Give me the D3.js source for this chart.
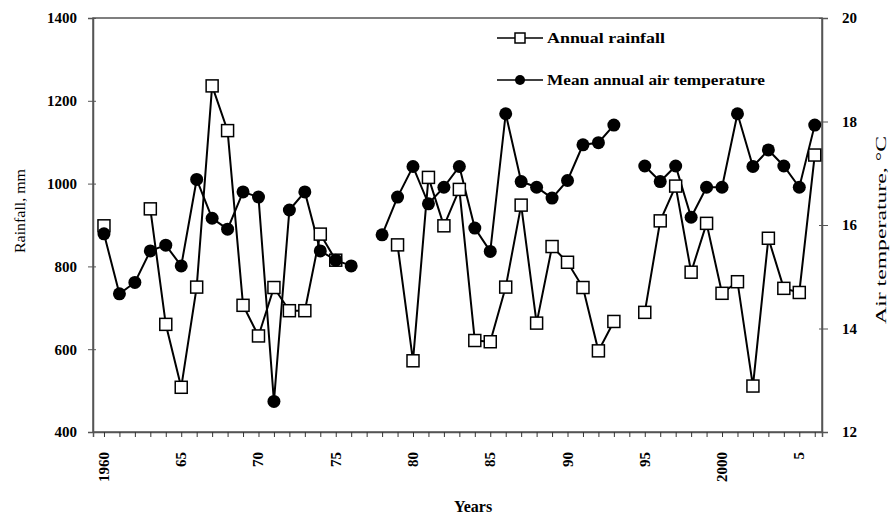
<!DOCTYPE html>
<html>
<head>
<meta charset="utf-8">
<script src="https://cdn.jsdelivr.net/npm/d3@7"></script>
<style>
  body { margin: 0; background: #fff; }
  text { font-family: "Liberation Serif", "Times New Roman", serif; }
</style>
</head>
<body>
<div id="chart"></div>
<script>
// jaren en waarden, null = geen meting
const years = d3.range(1960, 2007)
const rainfall = [898, null, null, 939, 660, 508, 750, 1236, 1128, 706, 632, 749, 693, 693, 878, 815, null,
  null, null, 852, 572, 1015, 898, 986, 621, 618, 750, 948, 663, 848, 810, 749, 596, 667,
  null, 689, 910, 994, 786, 904, 735, 763, 511, 868, 747, 737, 1069]
const temperature = [15.83, 14.67, 14.89, 15.5, 15.61, 15.21, 16.88, 16.13, 15.92, 16.64, 16.54, 12.59, 16.29, 16.64, 15.5, 15.32, 15.21,
  null, 15.81, 16.54, 17.13, 16.41, 16.73, 17.13, 15.94, 15.49, 18.15, 16.84, 16.73, 16.52, 16.86, 17.55, 17.59, 17.93,
  null, 17.14, 16.84, 17.14, 16.15, 16.73, 16.73, 18.15, 17.13, 17.45, 17.14, 16.73, 17.93]
const rainTicks = [400, 600, 800, 1000, 1200, 1400]
const tempTicks = [12, 14, 16, 18, 20]
const yearLabels = [1960, 1965, 1970, 1975, 1980, 1985, 1990, 1995, 2000, 2005]
const yearTexts = ["1960", "65", "70", "75", "80", "85", "90", "95", "2000", "5"]

const width = 894
const height = 517
const margin = {top: 18, right: 72, bottom: 85, left: 93}
const innerW = width - margin.left - margin.right
const innerH = height - margin.top - margin.bottom

var xScale = d3.scaleLinear()
    .domain([1959.29, 2006.47])
    .range([0, innerW])

var yRain = d3.scaleLinear()
    .domain([400, 1400])
    .range([innerH, 0])

var yTemp = d3.scaleLinear()
    .domain([12, 20])
    .range([innerH, 0])

var svg = d3.select("#chart")
    .append("svg")
    .attr("width", width)
    .attr("height", height)
  .append("g")
    .attr("transform", "translate(" + margin.left + "," + margin.top + ")")

// kader rond het plotgebied
svg.append("rect")
    .attr("width", innerW)
    .attr("height", innerH)
    .attr("fill", "none")
    .attr("stroke", "#555")
    .attr("stroke-width", 1.5)

// linker as
var left = svg.append("g")
    .call(d3.axisLeft(yRain).tickValues(rainTicks).tickSize(5).tickFormat(d3.format("d")))
left.selectAll(".tick line").attr("x2", -5).attr("x1", 3).attr("stroke", "#555")
left.selectAll("text").attr("font-size", 15).attr("font-weight", "bold").attr("x", -16)

// rechter as
var right = svg.append("g")
    .attr("transform", "translate(" + innerW + ",0)")
    .call(d3.axisRight(yTemp).tickValues(tempTicks).tickSize(6).tickFormat(d3.format("d")))
right.selectAll(".tick line").attr("x1", -3).attr("stroke", "#555")
right.selectAll("text").attr("font-size", 15).attr("font-weight", "bold").attr("x", 20)

// x-as met een streepje per jaar
var bottom = svg.append("g")
    .attr("transform", "translate(0," + innerH + ")")
    .call(d3.axisBottom(xScale).tickValues(years).tickSize(5).tickFormat(""))
bottom.selectAll(".tick line").attr("stroke", "#333")

svg.append("g")
    .selectAll("text")
    .data(yearLabels)
    .enter()
    .append("text")
    .attr("transform", function(d) { return "translate(" + (xScale(d) + 5) + "," + (innerH + 20) + ") rotate(-90)" })
    .attr("text-anchor", "end")
    .attr("font-size", 15)
    .attr("font-weight", "bold")
    .text(function(d, i) { return yearTexts[i] })

svg.selectAll(".domain").attr("stroke", "#555").attr("stroke-width", 1.5)

// astitels
svg.append("text")
    .attr("transform", "translate(" + (-68) + "," + (innerH / 2 - 14) + ") rotate(-90)")
    .attr("text-anchor", "middle")
    .attr("font-size", 15)
    .attr("textLength", 84)
    .attr("lengthAdjust", "spacingAndGlyphs")
    .text("Rainfall, mm")

svg.append("text")
    .attr("transform", "translate(" + (innerW + 64) + "," + (innerH / 2 + 5) + ") rotate(-90)")
    .attr("text-anchor", "middle")
    .attr("font-size", 14)
    .attr("textLength", 188)
    .attr("lengthAdjust", "spacingAndGlyphs")
    .text("Air temperature, °C")

svg.append("text")
    .attr("x", 380)
    .attr("y", innerH + 80)
    .attr("text-anchor", "middle")
    .attr("font-size", 16)
    .attr("font-weight", "bold")
    .text("Years")

// lijnen
var rainLine = d3.line()
    .defined(function(d) { return d[1] != null })
    .x(function(d) { return xScale(d[0]) })
    .y(function(d) { return yRain(d[1]) })

var tempLine = d3.line()
    .defined(function(d) { return d[1] != null })
    .x(function(d) { return xScale(d[0]) })
    .y(function(d) { return yTemp(d[1]) })

var rainData = years.map(function(y, i) { return [y, rainfall[i]] })
var tempData = years.map(function(y, i) { return [y, temperature[i]] })

svg.append("path")
    .datum(rainData)
    .attr("d", rainLine)
    .attr("fill", "none")
    .attr("stroke", "#000")
    .attr("stroke-width", 2)

svg.append("path")
    .datum(tempData)
    .attr("d", tempLine)
    .attr("fill", "none")
    .attr("stroke", "#000")
    .attr("stroke-width", 2)

// markers
svg.append("g")
  .selectAll("rect")
    .data(rainData.filter(function(d) { return d[1] != null }))
    .enter()
    .append("rect")
    .attr("x", function(d) { return xScale(d[0]) - 6 })
    .attr("y", function(d) { return yRain(d[1]) - 6 })
    .attr("width", 12)
    .attr("height", 12)
    .attr("fill", "#fff")
    .attr("stroke", "#000")
    .attr("stroke-width", 1.5)

svg.append("g")
  .selectAll("circle")
    .data(tempData.filter(function(d) { return d[1] != null }))
    .enter()
    .append("circle")
    .attr("cx", function(d) { return xScale(d[0]) })
    .attr("cy", function(d) { return yTemp(d[1]) })
    .attr("r", 6.5)
    .attr("fill", "#000")

// legenda
var legend = svg.append("g").attr("transform", "translate(" + (497 - margin.left) + ",0)")
legend.append("line").attr("x1", 0).attr("x2", 46).attr("y1", 20).attr("y2", 20).attr("stroke", "#000").attr("stroke-width", 1.5)
legend.append("rect").attr("x", 18).attr("y", 15).attr("width", 10).attr("height", 10).attr("fill", "#fff").attr("stroke", "#000").attr("stroke-width", 1.5)
legend.append("text").attr("x", 50).attr("y", 25).attr("font-size", 14).attr("font-weight", "bold")
    .attr("textLength", 118).attr("lengthAdjust", "spacingAndGlyphs").text("Annual rainfall")
legend.append("line").attr("x1", 0).attr("x2", 46).attr("y1", 62).attr("y2", 62).attr("stroke", "#000").attr("stroke-width", 1.5)
legend.append("circle").attr("cx", 23).attr("cy", 62).attr("r", 5).attr("fill", "#000")
legend.append("text").attr("x", 50).attr("y", 67).attr("font-size", 14).attr("font-weight", "bold")
    .attr("textLength", 218).attr("lengthAdjust", "spacingAndGlyphs").text("Mean annual air temperature")
</script>
</body>
</html>
